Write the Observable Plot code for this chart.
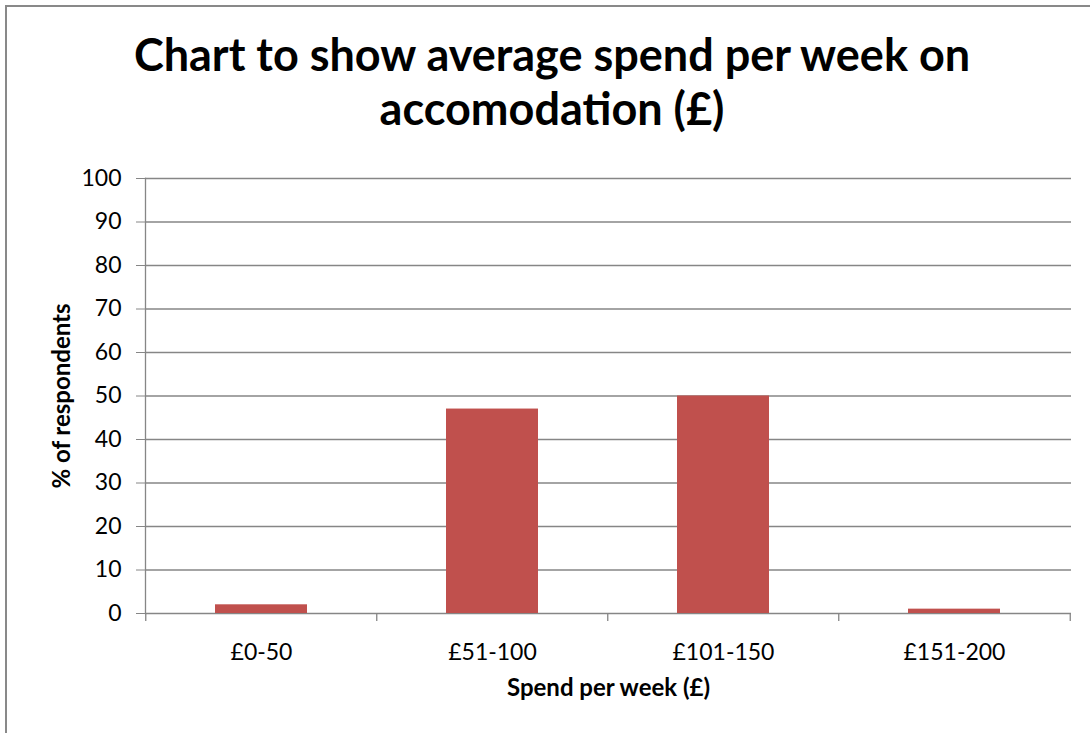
<!DOCTYPE html>
<html>
<head>
<meta charset="utf-8">
<script src="https://cdn.jsdelivr.net/npm/d3@7"></script>
<script src="https://cdn.jsdelivr.net/npm/@observablehq/plot@0.6"></script>
<style>
  html, body { margin: 0; padding: 0; background: #fff; overflow: hidden; }
  #wrap { position: relative; width: 1090px; height: 733px; overflow: hidden; font-family: Lato, "Open Sans", sans-serif; }
  #border { position: absolute; left: 5px; top: 5px; width: 1100px; height: 740px; border-left: 2px solid #898989; border-top: 2px solid #898989; box-sizing: border-box; }
  #title { position: absolute; left: 0; top: 27px; width: 1104px; text-align: center; font-weight: bold; font-size: 45px; line-height: 54px; color: #000; }
  #chart { position: absolute; left: 0; top: 0; }
</style>
</head>
<body>
<div id="wrap">
  <div id="border"></div>
  <div id="chart"></div>
  <div id="title">Chart to show average spend per week on<br>accomodation (£)</div>
</div>
<script>
const categories = ["£0-50", "£51-100", "£101-150", "£151-200"];
const values = [2, 47, 50, 1];
const yTicks = [0, 10, 20, 30, 40, 50, 60, 70, 80, 90, 100];
const xLabel = "Spend per week (£)";
const yLabel = "% of respondents";

const data = categories.map((c, i) => ({cat: c, value: values[i]}));

const W = 1090, H = 733;
const mL = 145, mR = 19, mT = 178, mB = 120;
const step = (W - mL - mR) / categories.length;
const pInner = 0.6, pOuter = 0.3;
const gray = "#868686";

const chart = Plot.plot({
  width: W,
  height: H,
  marginLeft: mL,
  marginRight: mR,
  marginTop: mT,
  marginBottom: mB,
  style: {fontFamily: "Lato, 'Open Sans', sans-serif", fontSize: "23px", color: "#000", background: "transparent"},
  x: {type: "band", domain: categories, paddingInner: pInner, paddingOuter: pOuter, label: null},
  y: {domain: [0, 100], ticks: yTicks, label: null},
  marks: [
    Plot.ruleY(yTicks, {stroke: gray, strokeWidth: 1.3}),
    Plot.frame({anchor: "left", stroke: gray, strokeWidth: 1.3}),
    Plot.barY(data, {x: "cat", y: "value", fill: "#C0504D"}),
    Plot.ruleX(categories, {x: d => d, y1: 0, y2: 0, dx: -step / 2, insetBottom: -8, stroke: gray, strokeWidth: 1.3}),
    Plot.ruleX(categories.slice(-1), {x: d => d, y1: 0, y2: 0, dx: step / 2, insetBottom: -8, stroke: gray, strokeWidth: 1.3}),
    Plot.axisY({ticks: yTicks, tickSize: 9, tickPadding: 15, stroke: gray, fontSize: 23, fill: "#000", label: null}),
    Plot.axisX({tickSize: 0, tickPadding: 30, fontSize: 23, fill: "#000", label: null}),
    Plot.text([xLabel], {frameAnchor: "bottom", dy: 82, text: d => d, fontWeight: "bold", fontSize: 24, fill: "#000", textAnchor: "middle"}),
    Plot.text([yLabel], {frameAnchor: "left", dx: -83, rotate: -90, text: d => d, fontWeight: "bold", fontSize: 24, fill: "#000", textAnchor: "middle"})
  ]
});
document.getElementById("chart").appendChild(chart);
</script>
</body>
</html>
